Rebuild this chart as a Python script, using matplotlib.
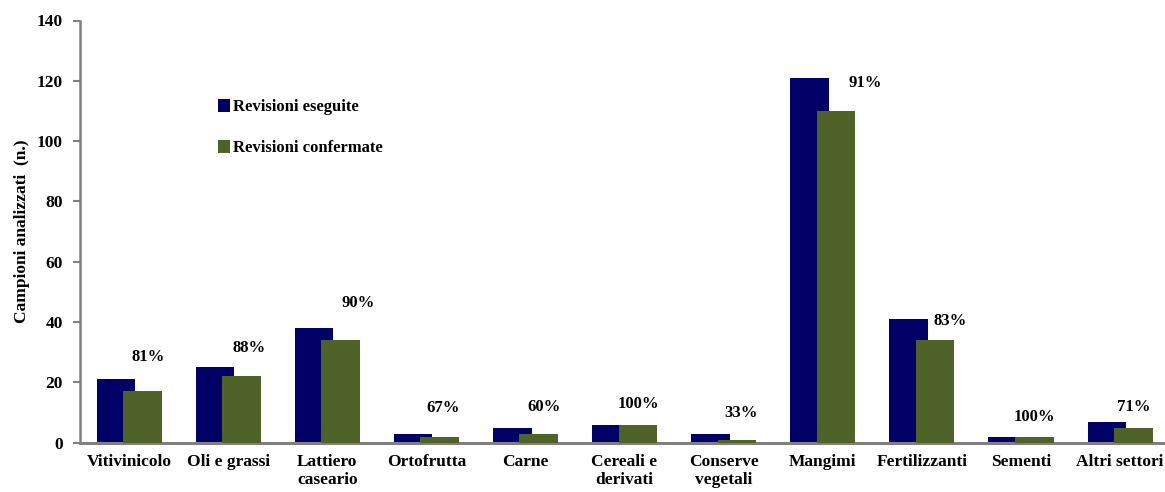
import numpy as np
import matplotlib.pyplot as plt

# settori e numero di revisioni
settori = ['Vitivinicolo', 'Oli e grassi', 'Lattiero\ncaseario', 'Ortofrutta', 'Carne',
           'Cereali e\nderivati', 'Conserve\nvegetali', 'Mangimi', 'Fertilizzanti',
           'Sementi', 'Altri settori']
eseguite = [21, 25, 38, 3, 5, 6, 3, 121, 41, 2, 7]
confermate = [17, 22, 34, 2, 3, 6, 1, 110, 34, 2, 5]
percentuali = [81, 88, 90, 67, 60, 100, 33, 91, 83, 100, 71]

# posizione delle etichette percentuali (spostamento x, quota y)
pos_etichette = [(0.19, 28.5), (0.21, 31.3), (0.31, 46.4), (0.17, 11.4), (0.19, 11.7),
                 (0.14, 12.8), (0.18, 9.7), (0.43, 119.4), (0.29, 40.5), (0.14, 8.6),
                 (0.14, 11.7)]

plt.rcParams['font.family'] = ['Liberation Serif', 'DejaVu Serif']
plt.rcParams['font.weight'] = 'bold'

W, H = 1165, 492
fig = plt.figure(figsize=(W / 100, H / 100), dpi=100)
ax = fig.add_axes([79.5 / W, 49.3 / H, (W - 79.5) / W, (442.7 - 20.5) / H])

x = np.arange(len(settori))
larg = 0.39
ax.bar(x - 0.133, eseguite, larg, color='#000066', label='Revisioni eseguite', zorder=2)
ax.bar(x + 0.134, confermate, larg, color='#4F6228', label='Revisioni confermate', zorder=3)

for i, (dx, y) in enumerate(pos_etichette):
    ax.text(i + dx, y, f'{percentuali[i]}%', ha='center', va='center',
            fontsize=12, fontweight='bold')

ax.set_ylim(0, 140)
ax.set_yticks(range(0, 141, 20))
ax.set_xlim(-0.5, -0.5 + (W - 79.5) / 99.1)
ax.set_xticks(x)
ax.set_xticklabels(settori, fontsize=12.5, fontweight='bold', linespacing=1.2)
ax.tick_params(axis='x', length=0, pad=8)
ax.tick_params(axis='y', length=5, width=1.5, color='#808080', labelsize=12.5, pad=7)
for lab in ax.get_yticklabels():
    lab.set_fontweight('bold')

ax.set_ylabel('Campioni analizzati  (n.)', fontsize=12.5, fontweight='bold', labelpad=5)

for s in ['top', 'right']:
    ax.spines[s].set_visible(False)
ax.spines['left'].set_color('#808080')
ax.spines['left'].set_linewidth(1.8)
ax.spines['bottom'].set_color('#808080')
ax.spines['bottom'].set_linewidth(2.2)

ax.legend(loc='upper left', bbox_to_anchor=(203 / W, 1 - 84 / H), bbox_transform=fig.transFigure,
          frameon=False, handlelength=0.72, handleheight=0.85, handletextpad=0.2,
          labelspacing=1.45, prop={'size': 12, 'weight': 'bold'})

fig.savefig('out.png', dpi=100)
